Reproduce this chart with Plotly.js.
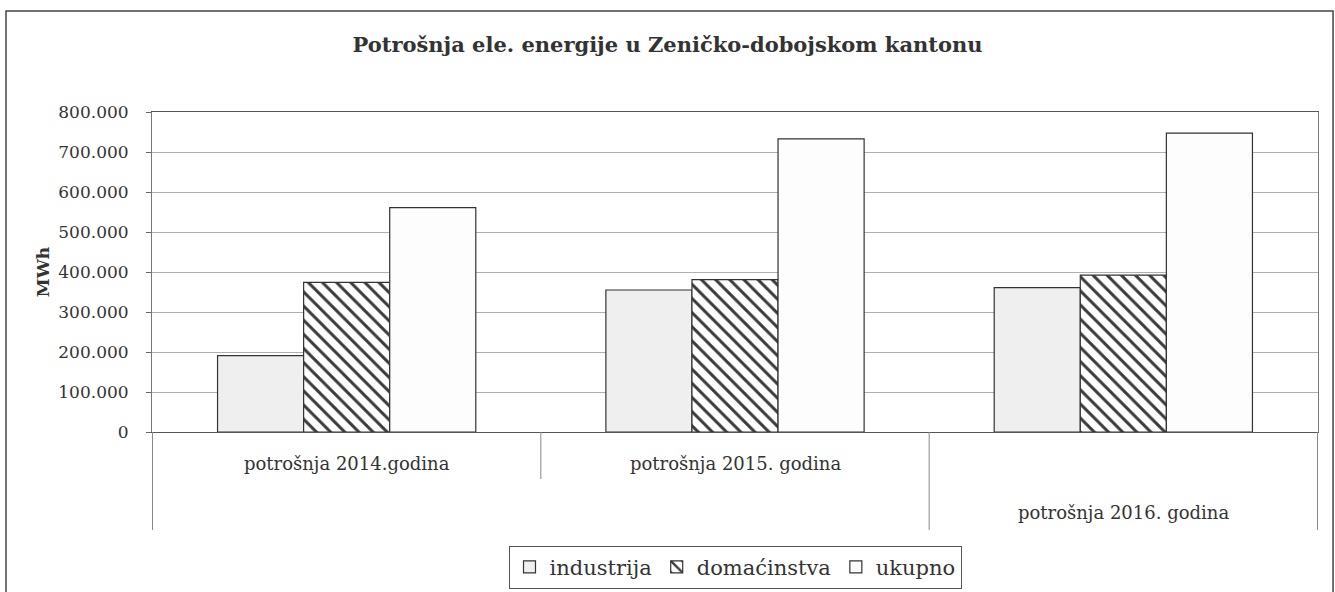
<!DOCTYPE html>
<html>
<head>
<meta charset="utf-8">
<script src="https://cdn.plot.ly/plotly-3.0.1.min.js"></script>
<style>
  html, body { margin: 0; padding: 0; background: #fff; }
  #chart { width: 1335px; height: 592px; }
</style>
</head>
<body>
<div id="chart"></div>
<script>
// ---- data ----
const categories = ["potrošnja 2014.godina", "potrošnja 2015. godina", "potrošnja 2016. godina"];
const seriesNames = ["industrija", "domaćinstva", "ukupno"];
const industrija = [191000, 355000, 361000];
const domacinstva = [374000, 381000, 392000];
const ukupno = [561000, 733000, 747000];
const yTicks = [0, 100000, 200000, 300000, 400000, 500000, 600000, 700000, 800000];
const chartTitle = "Potrošnja ele. energije u Zeničko-dobojskom kantonu";
const yTitle = "MWh";

const FONT = "'DejaVu Serif', 'Liberation Serif', serif";
const lineStyle = { color: "#333", width: 1.2 };

const traces = [
  {
    type: "bar", name: seriesNames[0], x: categories, y: industrija,
    marker: { color: "#efefef", line: lineStyle }
  },
  {
    type: "bar", name: seriesNames[1], x: categories, y: domacinstva,
    marker: {
      color: "#ffffff", line: lineStyle,
      pattern: { shape: "\\", fgcolor: "#3a3a3a", bgcolor: "#ffffff", size: 10, solidity: 0.3 }
    }
  },
  {
    type: "bar", name: seriesNames[2], x: categories, y: ukupno,
    marker: { color: "#fdfdfd", line: lineStyle }
  }
];

// category separators (at category boundaries) and staggered labels
const sepY = [-0.306, -0.147, -0.306, -0.306];
const shapes = [];
for (let i = 0; i <= categories.length; i++) {
  shapes.push({
    type: "line", xref: "x", yref: "paper",
    x0: i - 0.5, x1: i - 0.5, y0: 0, y1: sepY[i],
    line: { color: "#888", width: 1 }
  });
}
// outer chart frame
shapes.push({
  type: "rect", xref: "paper", yref: "paper",
  x0: -0.1252, x1: 1.0129, y0: -0.53, y1: 1.3156,
  line: { color: "#444", width: 1.5 }
});

const labelY = [-0.097, -0.097, -0.25];
const annotations = categories.map((c, i) => ({
  x: c, xref: "x", y: labelY[i], yref: "paper",
  text: c, showarrow: false, xanchor: "center", yanchor: "middle",
  font: { family: FONT, size: 18, color: "#333" }
}));

const layout = {
  width: 1335, height: 592,
  margin: { l: 152, r: 17, t: 112, b: 160 },
  paper_bgcolor: "#ffffff", plot_bgcolor: "#ffffff",
  separators: ",.",
  font: { family: FONT, color: "#333" },
  title: {
    text: "<b>" + chartTitle + "</b>",
    x: 0.5, xref: "container", xanchor: "center",
    y: 0.925, yref: "container", yanchor: "middle",
    font: { family: FONT, size: 21, color: "#333" }
  },
  barmode: "group",
  bargap: 0.335,
  bargroupgap: 0,
  xaxis: {
    type: "category",
    automargin: false,
    showticklabels: false,
    showgrid: false,
    showline: true, linecolor: "#555", linewidth: 1,
    mirror: true,
    ticks: "", zeroline: false
  },
  yaxis: {
    automargin: false,
    range: [0, 800000],
    tickvals: yTicks,
    tickformat: ",",
    tickfont: { family: FONT, size: 17, color: "#333" },
    ticks: "outside", ticklen: 5, tickcolor: "#666",
    ticklabelstandoff: 14,
    showgrid: true, gridcolor: "#b0b0b0", gridwidth: 1,
    showline: true, linecolor: "#777", linewidth: 1,
    mirror: true,
    zeroline: false,
    title: {
      text: "<b>" + yTitle + "</b>", standoff: 4,
      font: { family: FONT, size: 17, color: "#333" }
    }
  },
  legend: {
    orientation: "h",
    x: 0.5, xref: "paper", xanchor: "center",
    y: 0.042, yref: "container", yanchor: "middle",
    bordercolor: "#555", borderwidth: 1,
    bgcolor: "#ffffff",
    font: { family: FONT, size: 21, color: "#333" },
    itemwidth: 30,
    tracegroupgap: 0,
    traceorder: "normal"
  },
  shapes: shapes,
  annotations: annotations
};

Plotly.newPlot("chart", traces, layout, { displayModeBar: false, staticPlot: true });
</script>
</body>
</html>
